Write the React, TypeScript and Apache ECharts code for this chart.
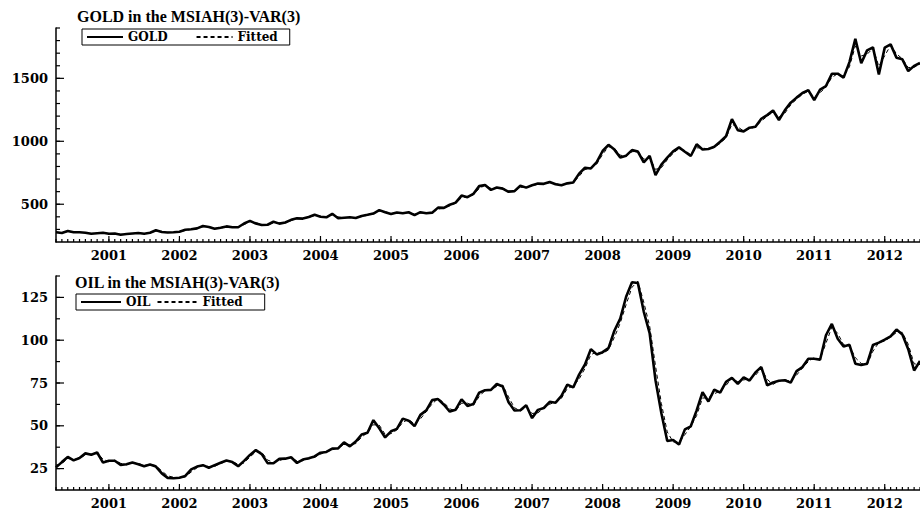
import React, { useEffect, useRef } from "react";
import * as echarts from "echarts";

// Monthly observations, April 2000 to July 2012
const startYear = 2000;
const startMonth = 4;

const gold = [
  277, 272, 288, 277, 277, 274, 265, 269, 273,
  265, 267, 258, 263, 268, 271, 266, 273, 293, 279, 276, 277,
  282, 297, 301, 308, 327, 319, 305, 313, 324, 317, 317, 347,
  368, 347, 335, 337, 361, 346, 355, 376, 388, 386, 398, 416,
  400, 396, 424, 389, 393, 396, 391, 407, 416, 426, 453, 436,
  422, 435, 428, 436, 414, 437, 429, 433, 473, 471, 496, 513,
  569, 556, 582, 644, 653, 614, 633, 624, 599, 604, 647, 632,
  651, 664, 662, 677, 659, 651, 666, 672, 743, 790, 784, 834,
  923, 972, 934, 871, 886, 930, 918, 833, 885, 731, 815, 870,
  920, 952, 917, 883, 976, 935, 939, 956, 996, 1040, 1176, 1088,
  1079, 1108, 1116, 1179, 1208, 1245, 1169, 1246, 1307, 1347, 1384, 1406,
  1327, 1411, 1439, 1536, 1537, 1506, 1629, 1814, 1620, 1722, 1746, 1531,
  1744, 1770, 1663, 1651, 1558, 1599, 1622,
];

const goldFitted = [
  278, 274, 283, 281, 276, 275, 268, 268, 271,
  268, 266, 261, 262, 266, 270, 268, 271, 287, 284, 277, 276,
  280, 292, 300, 306, 321, 322, 309, 310, 321, 319, 318, 338,
  362, 354, 339, 336, 354, 351, 352, 370, 385, 387, 395, 411,
  405, 398, 416, 400, 391, 395, 393, 402, 413, 423, 445, 441,
  426, 431, 430, 433, 421, 430, 431, 432, 461, 472, 488, 508,
  552, 560, 574, 625, 650, 626, 627, 627, 607, 602, 634, 636,
  645, 660, 663, 672, 664, 653, 661, 670, 722, 776, 786, 819,
  896, 957, 945, 890, 881, 917, 922, 858, 869, 777, 790, 853,
  905, 942, 927, 893, 948, 947, 938, 951, 984, 1027, 1135, 1114,
  1082, 1099, 1114, 1160, 1199, 1234, 1192, 1223, 1289, 1335, 1373, 1399,
  1351, 1386, 1431, 1507, 1537, 1515, 1592, 1758, 1678, 1691, 1739, 1596,
  1680, 1762, 1695, 1655, 1586, 1587, 1615,
];

const oil = [
  25.7, 28.8, 31.8, 29.8, 31.2, 33.9, 33.1, 34.4, 28.5,
  29.6, 29.6, 27.2, 27.5, 28.6, 27.6, 26.4, 27.4, 26.2, 22.2, 19.6, 19.4,
  19.7, 20.7, 24.5, 26.2, 27.0, 25.5, 27.0, 28.4, 29.7, 28.8, 26.4, 29.5,
  33.0, 35.8, 33.5, 28.2, 28.1, 30.7, 30.8, 31.6, 28.3, 30.3, 31.1, 32.1,
  34.3, 34.7, 36.7, 36.8, 40.3, 38.0, 40.8, 44.9, 45.9, 53.3, 48.5, 43.2,
  46.8, 48.2, 54.2, 53.0, 49.8, 56.4, 59.0, 65.0, 65.6, 62.3, 58.3, 59.4,
  65.5, 61.6, 62.7, 69.4, 70.8, 71.0, 74.4, 73.0, 63.8, 58.9, 59.1, 62.0,
  54.5, 59.3, 60.4, 64.0, 63.5, 67.5, 74.1, 72.4, 79.9, 85.8, 94.8, 91.7,
  93.0, 95.4, 105.5, 112.6, 125.4, 133.9, 133.4, 116.7, 104.1, 76.6, 57.3, 41.1,
  41.7, 39.1, 47.9, 49.7, 59.0, 69.6, 64.2, 71.1, 69.4, 75.7, 78.0, 74.5,
  78.3, 76.4, 81.2, 84.3, 73.7, 75.3, 76.3, 76.6, 75.2, 81.9, 84.3, 89.2,
  89.2, 88.6, 102.9, 109.5, 100.9, 96.3, 97.3, 86.3, 85.5, 86.3, 97.2, 98.6,
  100.3, 102.2, 106.2, 103.3, 94.7, 82.3, 87.9,
];

const oilFitted = [
  27.0, 27.9, 30.9, 30.4, 30.8, 33.1, 33.5, 34.2, 30.5,
  29.0, 29.9, 28.1, 27.2, 28.5, 28.0, 26.9, 27.3, 26.8, 23.6, 20.8, 19.9,
  19.3, 20.2, 23.0, 25.5, 26.9, 26.2, 26.3, 28.0, 29.1, 29.3, 27.4, 28.3,
  31.8, 34.8, 34.6, 30.0, 28.6, 29.7, 30.9, 31.2, 29.5, 29.6, 30.7, 31.6,
  33.4, 34.9, 35.9, 37.1, 39.0, 39.1, 39.6, 43.4, 46.0, 50.6, 50.4, 45.0,
  45.4, 47.6, 52.0, 53.8, 51.0, 54.0, 58.4, 62.8, 65.9, 63.6, 59.9, 58.8,
  63.2, 63.2, 61.9, 67.1, 70.6, 71.2, 73.0, 73.8, 66.8, 60.6, 58.6, 60.9,
  57.2, 57.6, 60.3, 62.6, 64.0, 66.1, 71.8, 73.2, 77.3, 83.5, 91.5, 93.2,
  92.3, 94.3, 101.7, 110.0, 120.8, 130.9, 134.5, 122.2, 108.3, 85.0, 63.0, 46.4,
  40.6, 40.4, 44.8, 49.6, 56.0, 66.2, 66.4, 68.7, 70.3, 73.6, 77.7, 75.8,
  76.8, 77.4, 79.5, 83.5, 77.1, 74.2, 76.2, 76.9, 75.9, 79.6, 83.8, 87.5,
  89.8, 89.0, 98.2, 107.6, 104.0, 97.4, 96.6, 89.8, 86.4, 85.7, 93.6, 98.6,
  99.5, 101.9, 104.5, 104.6, 97.6, 86.2, 85.8,
];

const goldTicks = [500, 1000, 1500];
const oilTicks = [25, 50, 75, 100, 125];

const GOLD_MIN = 200;
const GOLD_MAX = 1900;
const GOLD_MINOR_STEP = 100;
const OIL_MIN = 12.5;
const OIL_MAX = 137.5;
const OIL_MINOR_STEP = 12.5;

// month categories "YYYY-MM"
const months = gold.map((_, i) => {
  const m = startMonth - 1 + i;
  const y = startYear + Math.floor(m / 12);
  const mm = (m % 12) + 1;
  return `${y}-${mm < 10 ? "0" + mm : mm}`;
});
const isJanuary = (_i: number, v: string) => v.slice(5) === "01";
const monthIdx = months.map((_, i) => i);
const yearIdx = monthIdx.filter((i) => months[i].slice(5) === "01");

const stepTicks = (lo: number, hi: number, step: number) => {
  const out: number[] = [];
  for (let v = lo + step; v <= hi + 1e-9; v += step) out.push(v);
  return out;
};

const LABEL_FONT = {
  fontFamily: "DejaVu Serif",
  fontWeight: "bold" as const,
  fontSize: 13,
  color: "#000",
};

// Tick marks, placed through the axes' own scales
const tickSeries = (
  values: number[],
  dim: "x" | "y",
  len: number,
  axisIndex: number,
  anchor: number
) => ({
  type: "custom",
  xAxisIndex: axisIndex,
  yAxisIndex: axisIndex,
  z: 6,
  data: values.map((v) => (dim === "x" ? [v, anchor] : [anchor, v])),
  renderItem: (_params: any, api: any) => {
    const p = api.coord([api.value(0), api.value(1)]);
    const shape =
      dim === "x"
        ? { x1: p[0], y1: p[1], x2: p[0], y2: p[1] - len }
        : { x1: p[0], y1: p[1], x2: p[0] + len, y2: p[1] };
    return { type: "line", shape, style: { stroke: "#000", lineWidth: 1.2 } };
  },
});

export default function App() {
  const ref = useRef<HTMLDivElement>(null);
  useEffect(() => {
    if (!ref.current) return;
    const chart = echarts.init(ref.current, undefined, { renderer: "svg" });
    const axisLine = { show: true, onZero: false, lineStyle: { color: "#000", width: 1.5 } };
    const xAxisOf = (gridIndex: number) => ({
      type: "category",
      gridIndex,
      data: months,
      boundaryGap: false,
      axisLine,
      splitLine: { show: false },
      axisTick: { show: false },
      axisLabel: {
        show: true,
        interval: isJanuary,
        margin: 7,
        formatter: (v: string) => v.slice(0, 4),
        ...LABEL_FONT,
      },
    });
    const yAxisOf = (gridIndex: number, min: number, max: number, step: number, ticks: number[]) => ({
      type: "value",
      gridIndex,
      min,
      max,
      interval: step,
      axisLine,
      splitLine: { show: false },
      axisTick: { show: false },
      axisLabel: {
        show: true,
        margin: 8,
        formatter: (v: number) => (ticks.indexOf(v) >= 0 ? String(v) : ""),
        ...LABEL_FONT,
      },
    });
    const solid = { color: "#000", width: 2.6 };
    const dashed = { color: "#000", width: 1, type: [4, 3] };
    const legendText = {
      fontFamily: "DejaVu Serif",
      fontWeight: "bold",
      fontSize: 12,
      color: "#000",
    };
    const legendBase = {
      orient: "horizontal",
      borderColor: "#000",
      borderWidth: 1,
      itemHeight: 12,
      itemStyle: { opacity: 0 },
      textStyle: legendText,
    };
    const titleStyle = {
      fontFamily: "Liberation Serif",
      fontWeight: "bold",
      fontSize: 16,
      color: "#000",
    };
    chart.setOption({
      animation: false,
      backgroundColor: "#fff",
      color: ["#000"],
      title: [
        { text: "GOLD in the MSIAH(3)-VAR(3)", left: 77, top: 8, padding: 0, textStyle: titleStyle },
        { text: "OIL in the MSIAH(3)-VAR(3)", left: 75, top: 274, padding: 0, textStyle: titleStyle },
      ],
      legend: [
        {
          ...legendBase,
          data: ["GOLD", "Fitted"],
          left: 82,
          top: 29,
          padding: [2, 12, 2, 4],
          itemWidth: 36,
          itemGap: 28,
        },
        {
          ...legendBase,
          data: ["OIL", "Fitted"],
          left: 76,
          top: 294,
          padding: [2, 22, 2, 4],
          itemWidth: 40,
          itemGap: 6,
        },
      ],
      grid: [
        { left: 56, right: 0, top: 28, height: 214 },
        { left: 56, right: 0, top: 276, height: 214 },
      ],
      xAxis: [xAxisOf(0), xAxisOf(1)],
      yAxis: [
        yAxisOf(0, GOLD_MIN, GOLD_MAX, GOLD_MINOR_STEP, goldTicks),
        yAxisOf(1, OIL_MIN, OIL_MAX, OIL_MINOR_STEP, oilTicks),
      ],
      series: [
        {
          type: "line", name: "GOLD", xAxisIndex: 0, yAxisIndex: 0,
          data: gold,
          symbol: "none", lineStyle: solid, itemStyle: { color: "#000" }, z: 3,
        },
        {
          type: "line", name: "Fitted", xAxisIndex: 0, yAxisIndex: 0,
          data: goldFitted,
          symbol: "none", lineStyle: dashed, itemStyle: { color: "#000" }, z: 4,
        },
        {
          type: "line", name: "OIL", xAxisIndex: 1, yAxisIndex: 1,
          data: oil,
          symbol: "none", lineStyle: solid, itemStyle: { color: "#000" }, z: 3,
        },
        {
          type: "line", name: "Fitted", xAxisIndex: 1, yAxisIndex: 1,
          data: oilFitted,
          symbol: "none", lineStyle: dashed, itemStyle: { color: "#000" }, z: 4,
        },
        tickSeries(monthIdx, "x", 3, 0, GOLD_MIN),
        tickSeries(yearIdx, "x", 6, 0, GOLD_MIN),
        tickSeries(stepTicks(GOLD_MIN, GOLD_MAX, GOLD_MINOR_STEP), "y", 4, 0, 0),
        tickSeries(goldTicks, "y", 8, 0, 0),
        tickSeries(monthIdx, "x", 3, 1, OIL_MIN),
        tickSeries(yearIdx, "x", 6, 1, OIL_MIN),
        tickSeries(stepTicks(OIL_MIN, OIL_MAX, OIL_MINOR_STEP), "y", 4, 1, 0),
        tickSeries(oilTicks, "y", 8, 1, 0),
      ],
    });
    return () => chart.dispose();
  }, []);
  return <div ref={ref} style={{ width: 920, height: 512, position: "absolute", left: 0, top: 0 }} />;
}
